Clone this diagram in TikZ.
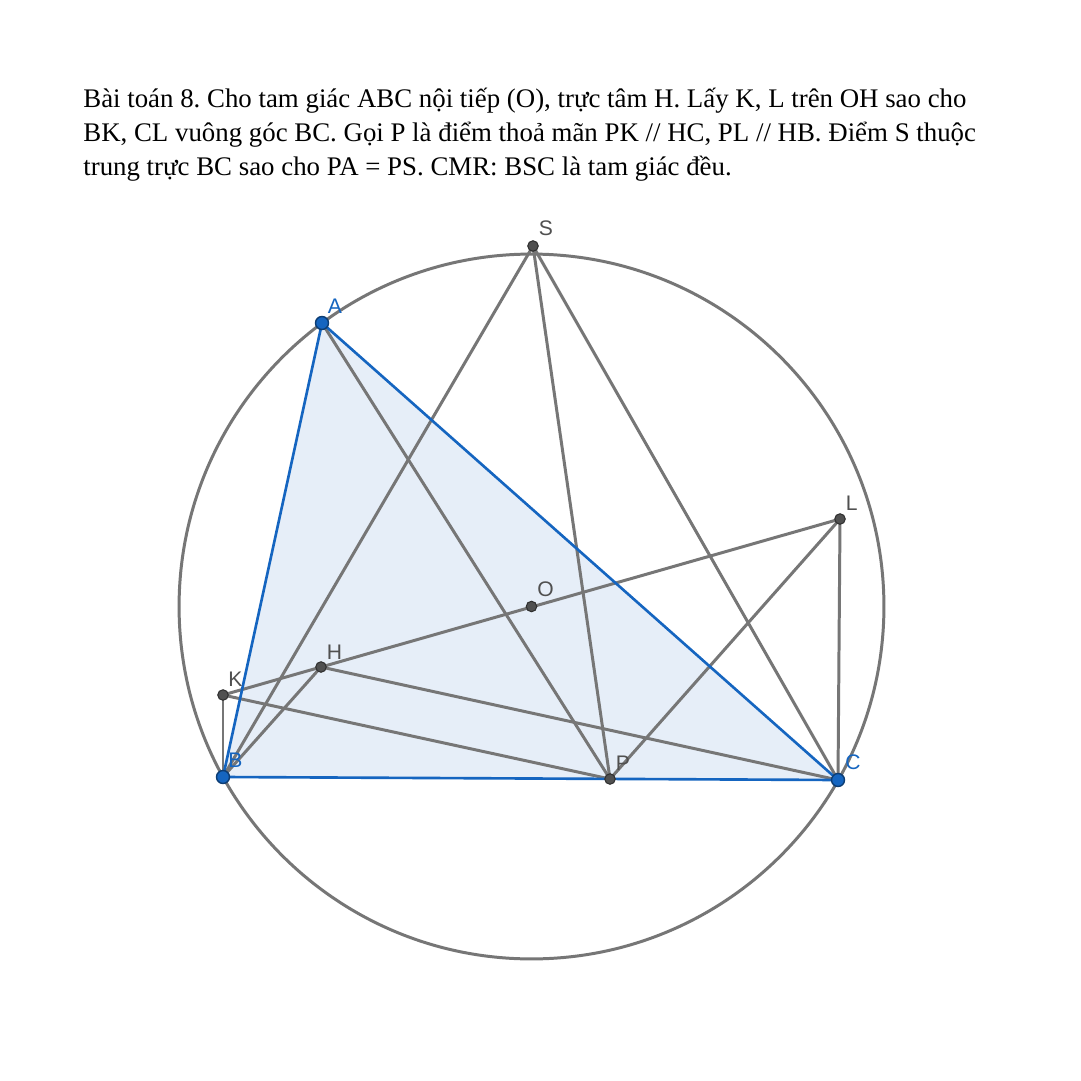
\documentclass[tikz,border=0pt]{standalone}
\usepackage{fontspec}
\setmainfont{Liberation Serif}
\newfontfamily\ptfont{Liberation Sans}
\usetikzlibrary{positioning}
\definecolor{triblue}{RGB}{21,101,192}
\definecolor{trifill}{RGB}{230,238,248}
\definecolor{linegray}{RGB}{118,118,118}
\definecolor{dotgray}{RGB}{80,80,80}
\frenchspacing

\begin{document}
\begin{tikzpicture}[x=0.02cm,y=-0.02cm,
  seg/.style={draw=linegray,line width=1.7pt},
  side/.style={draw=triblue,line width=1.5pt},
  bdot/.style={circle,fill=triblue,draw=triblue!60!black,line width=0.8pt,inner sep=0pt,minimum size=0.26cm},
  gdot/.style={circle,fill=dotgray,draw=dotgray!60!black,line width=0.6pt,inner sep=0pt,minimum size=0.21cm},
  glab/.style={font=\ptfont\fontsize{12}{12}\selectfont,inner sep=0pt,text=dotgray},
  blab/.style={glab,text=triblue},
  txt/.style={anchor=base west,font=\fontsize{15.28}{19}\selectfont,inner sep=0pt}]
\useasboundingbox (0,0) rectangle (1080,1081);
\fill[white] (0,0) rectangle (1080,1081);

\node[txt] (t1) at (83,108) {Bài toán 8. Cho tam giác ABC nội tiếp (O), trực tâm H. Lấy K, L trên OH sao cho};
\node[txt] (t2) at (83,142) {BK, CL vuông góc BC. Gọi P là điểm thoả mãn PK // HC, PL // HB. Điểm S thuộc};
\node[txt] (t3) at (83,175) {trung trực BC sao cho PA = PS. CMR: BSC là tam giác đều.};

\coordinate (A) at (322,323);
\coordinate (B) at (223,777);
\coordinate (C) at (838,780);
\coordinate (O) at (531.5,606.5);
\coordinate (H) at (321,667);
\coordinate (K) at (223,695);
\coordinate (L) at (840,519);
\coordinate (P) at (610,779);
\coordinate (S) at (533,246);

\fill[trifill] (A) -- (B) -- (C) -- cycle;
\draw[seg] (O) circle (7.05cm);
\draw[seg] (S) -- (B);
\draw[seg] (S) -- (P);
\draw[seg] (S) -- (C);
\draw[seg] (A) -- (P);
\draw[seg] (K) -- (L);
\draw[seg] (K) -- (B);
\draw[seg] (L) -- (C);
\draw[seg] (K) -- (P);
\draw[seg] (H) -- (C);
\draw[seg] (H) -- (B);
\draw[seg] (P) -- (L);
\draw[side] (A) -- (B) -- (C) -- cycle;

\node[gdot] (dS) at (S) {};
\node[gdot] (dO) at (O) {};
\node[gdot] (dH) at (H) {};
\node[gdot] (dK) at (K) {};
\node[gdot] (dL) at (L) {};
\node[gdot] (dP) at (P) {};
\node[bdot] (dA) at (A) {};
\node[bdot] (dB) at (B) {};
\node[bdot] (dC) at (C) {};

\node[glab,above right=0.19cm and 0.11cm of S] (lS) {S};
\node[glab,above right=0.19cm and 0.11cm of O] (lO) {O};
\node[glab,above right=0.14cm and 0.11cm of H] (lH) {H};
\node[glab,above right=0.17cm and 0.10cm of K] (lK) {K};
\node[glab,above right=0.17cm and 0.11cm of L] (lL) {L};
\node[glab,above right=0.17cm and 0.11cm of P] (lP) {P};
\node[blab,above right=0.19cm and 0.11cm of A] (lA) {A};
\node[blab,above right=0.19cm and 0.10cm of B] (lB) {B};
\node[blab,above right=0.19cm and 0.14cm of C] (lC) {C};
\end{tikzpicture}
\end{document}
